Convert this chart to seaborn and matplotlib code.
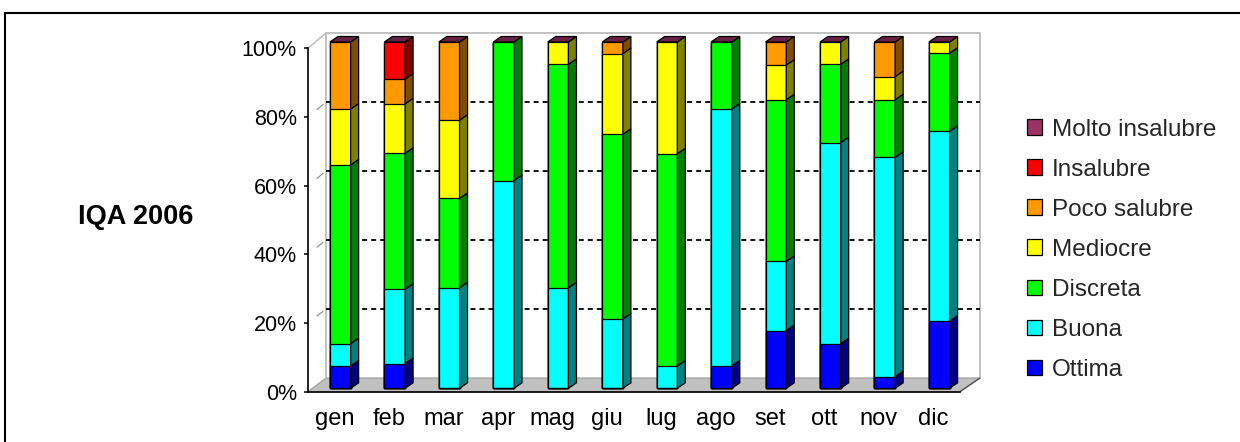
import numpy as np
import pandas as pd
import matplotlib
matplotlib.use("Agg")
import matplotlib.pyplot as plt
from matplotlib.patches import Patch, Polygon
from matplotlib.lines import Line2D
from matplotlib.colors import to_rgb
import seaborn as sns

# ---------------- data (days per month in each air-quality class) ----------------
months = ['gen', 'feb', 'mar', 'apr', 'mag', 'giu', 'lug', 'ago', 'set', 'ott', 'nov', 'dic']
levels = ['Ottima', 'Buona', 'Discreta', 'Mediocre', 'Poco salubre', 'Insalubre', 'Molto insalubre']
ottima = [2, 2, 0, 0, 0, 0, 0, 2, 5, 4, 1, 6]
buona = [2, 6, 9, 18, 9, 6, 2, 23, 6, 18, 19, 17]
discreta = [16, 11, 8, 12, 20, 16, 19, 6, 14, 7, 5, 7]
mediocre = [5, 4, 7, 0, 2, 7, 10, 0, 3, 2, 2, 1]
poco_salubre = [6, 2, 7, 0, 0, 1, 0, 0, 2, 0, 3, 0]
insalubre = [0, 3, 0, 0, 0, 0, 0, 0, 0, 0, 0, 0]
molto_insalubre = [0, 0, 0, 0, 0, 0, 0, 0, 0, 0, 0, 0]
colors = ['#0000FF', '#00FFFF', '#00FF00', '#FFFF00', '#FF9900', '#FF0000', '#993366']
ytick_vals = [0, 20, 40, 60, 80, 100]
title = 'IQA 2006'

series = [ottima, buona, discreta, mediocre, poco_salubre, insalubre, molto_insalubre]
counts = pd.DataFrame(dict(zip(levels, series)), index=months)
pct = counts.div(counts.sum(axis=1), axis=0) * 100
cum = pct.cumsum(axis=1)

sns.set_style("white")
plt.rcParams['font.family'] = ['Liberation Sans', 'DejaVu Sans']
plt.rcParams['lines.scale_dashes'] = False

W, H = 1240, 442
fig = plt.figure(figsize=(W / 100, H / 100), dpi=100)

# pixel <-> data helpers (bars: 0% at y=388.3px, 100% at 42px; bar i centre at 340.3+54.45*i)
X0, XS = 340.3, 54.45
Y0, YS = 388.3, 3.463
def X(px):
    return (px - X0) / XS
def Y(py):
    return (Y0 - py) / YS

ax_l, ax_r, ax_t, ax_b = 300, 1000, 30, 400
ax = fig.add_axes([ax_l / W, 1 - ax_b / H, (ax_r - ax_l) / W, (ax_b - ax_t) / H])
ax.set_facecolor('none')

# ---- back wall, floor, gridlines (3-D frame) ----
wall_l, wall_r, wall_t, wall_b = 326, 980, 33, 378
front_l, front_r, front_b, front_t = 308, 960, 391.7, 48.3
floor = Polygon([(X(front_l), Y(front_b)), (X(front_r), Y(front_b)),
                 (X(wall_r), Y(wall_b)), (X(wall_l), Y(wall_b))],
                closed=True, facecolor='#c0c0c0', edgecolor='#999999', lw=0.8, zorder=1)
ax.add_patch(floor)
ax.plot([X(wall_l), X(wall_l), X(wall_r), X(wall_r)],
        [Y(wall_b), Y(wall_t), Y(wall_t), Y(wall_b)], color='#b8b8b8', lw=1.2, zorder=1)
ax.plot([X(front_l), X(wall_l)], [Y(front_t), Y(wall_t)], color='#b8b8b8', lw=1.0, zorder=1)
ax.plot([X(front_r), X(wall_r)], [Y(front_b), Y(wall_b)], color='#555555', lw=1.0, zorder=1)
for p in ytick_vals[1:-1]:
    yw = wall_b - p * (wall_b - wall_t) / 100
    ax.plot([X(wall_l), X(wall_r)], [Y(yw), Y(yw)], color='black', lw=1.3,
            linestyle=(0, (3.6, 2.9)), zorder=1)
    ya = front_b - p * (front_b - front_t) / 100
    # short diagonal connector near the wall
    ax.plot([X(front_l + 0.5 * (wall_l - front_l)), X(wall_l - 3)],
            [Y(ya + 0.5 * (yw - ya)), Y(yw + 3 * (ya - yw) / (wall_l - front_l))],
            color='#888888', lw=0.8, zorder=1)

# ---- stacked bars (front faces) via seaborn ----
long = cum.reset_index().melt(id_vars='index', var_name='level', value_name='cum')
long = long.rename(columns={'index': 'month'})
for lev, col in reversed(list(zip(levels, colors))):
    sub = long[long['level'] == lev]
    sns.barplot(data=sub, x='month', y='cum', order=months, color=col, saturation=1,
                width=0.38, edgecolor='black', linewidth=0.9, errorbar=None, ax=ax, zorder=3)

# ---- side and top faces for the 3-D look ----
ddx, ddy = 8 / XS, 5.5 / YS
hw = 0.19
for i, m in enumerate(months):
    for lev, col in zip(levels, colors):
        h = pct.loc[m, lev]
        if h <= 0:
            continue
        top = cum.loc[m, lev]
        bot = top - h
        side = np.array(to_rgb(col)) * 0.5
        xr = i + hw
        ax.add_patch(Polygon([(xr, bot), (xr + ddx, bot + ddy), (xr + ddx, top + ddy), (xr, top)],
                             closed=True, facecolor=side, edgecolor='black', lw=0.9, zorder=3))
    topc = np.array(to_rgb(colors[-1])) * 0.67
    t = cum.loc[m].iloc[-1]
    ax.add_patch(Polygon([(i - hw, t), (i + hw, t), (i + hw + ddx, t + ddy), (i - hw + ddx, t + ddy)],
                         closed=True, facecolor=topc, edgecolor='black', lw=0.9, zorder=3))

# ---- axes ----
ax.set_xlim(X(ax_l), X(ax_r))
ax.set_ylim(Y(ax_b), Y(ax_t))
ax.set_xlabel('')
ax.set_ylabel('')
for s in ['top', 'right']:
    ax.spines[s].set_visible(False)
for s in ['left', 'bottom']:
    ax.spines[s].set_visible(True)
    ax.spines[s].set_color('black')
    ax.spines[s].set_linewidth(1.2)
ax.spines['left'].set_position(('data', X(front_l)))
ax.spines['left'].set_bounds(Y(front_b), Y(front_t))
ax.spines['bottom'].set_position(('data', Y(front_b)))
ax.spines['bottom'].set_bounds(X(front_l), X(front_r))

cat_w = (front_r - front_l) / len(months)
ax.set_xticks([X(front_l + cat_w * (i + 0.5)) for i in range(len(months))], months)
ax.set_xticks([X(front_l + cat_w * k) for k in range(len(months) + 1)], minor=True)
ax.tick_params(axis='x', which='major', length=0, pad=12, labelsize=17, colors='black')
ax.tick_params(axis='x', which='minor', length=3, width=1.1, direction='out', color='black')
ax.set_yticks([Y(front_b - p * (front_b - front_t) / 100) for p in ytick_vals],
              [f'{p}%' for p in ytick_vals])
ax.tick_params(axis='y', which='major', length=3, width=1.1, direction='out', pad=5,
               labelsize=15.5, colors='black', left=True)
ax.grid(False)

# ---- legend ----
handles = [Patch(facecolor=c, edgecolor='black', linewidth=0.9) for c in colors][::-1]
fig.legend(handles, levels[::-1], loc='upper left', bbox_to_anchor=(1027 / W, 1 - 118.5 / H),
           frameon=False, fontsize=17.5, handlelength=0.62, handleheight=0.62,
           handletextpad=0.4, labelspacing=0.745, borderpad=0, borderaxespad=0)

# ---- title ----
fig.text(135.5 / W, 1 - 217 / H, title, ha='center', va='center', fontsize=19.5,
         fontweight='bold', color='black')

# ---- outer border ----
fig.add_artist(Line2D([5 / W, 5 / W], [0, 1 - 13 / H], color='black', lw=1.5, transform=fig.transFigure))
fig.add_artist(Line2D([5 / W, 1], [1 - 13 / H, 1 - 13 / H], color='black', lw=1.5, transform=fig.transFigure))

fig.savefig('out.png', dpi=100, facecolor='white')
